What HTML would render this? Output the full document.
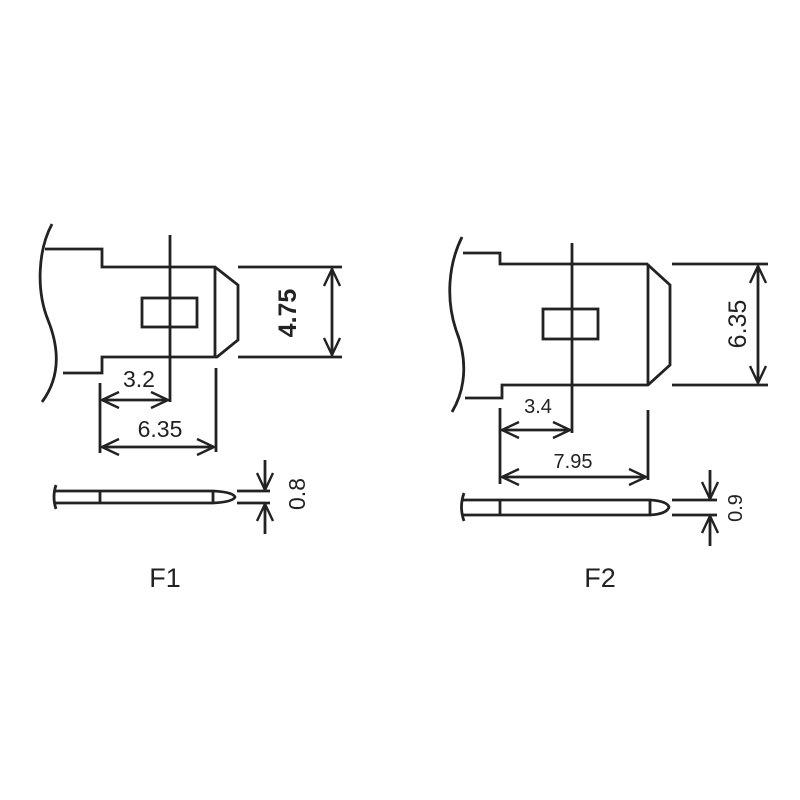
<!DOCTYPE html>
<html><head><meta charset="utf-8"><style>
html,body{margin:0;padding:0;background:#fff;}
svg{display:block;}
text{font-family:"Liberation Sans",Arial,sans-serif;fill:#222;}
</style></head><body>
<svg width="800" height="800" viewBox="0 0 800 800" xmlns="http://www.w3.org/2000/svg">
<defs>
<marker id="a" viewBox="0 0 20 20" refX="19" refY="10" markerWidth="20" markerHeight="20" markerUnits="userSpaceOnUse" orient="auto-start-reverse">
<path d="M2,2 L19,10 L2,18" fill="none" stroke="#222" stroke-width="2.4"/>
</marker>
</defs>
<g fill="none" stroke="#222" stroke-width="2.8" stroke-linejoin="miter">
<!-- F1 -->
<path d="M52,224 C38,250 36,290 48,320 C58,345 62,375 42,402"/>
<path d="M45,249 L102,249 L102,267 L215,267 L238,285 L238,340 L217,357 L102,357 L102,373 L63,373"/>
<line x1="215" y1="267" x2="215" y2="357"/>
<rect x="142" y="298" width="55" height="29"/>
<line x1="170" y1="235" x2="170" y2="402"/>
<line x1="100" y1="383" x2="100" y2="453"/>
<line x1="216" y1="368" x2="216" y2="452"/>
<line x1="102" y1="400" x2="168" y2="400" marker-start="url(#a)" marker-end="url(#a)"/>
<line x1="102" y1="447" x2="214" y2="447" marker-start="url(#a)" marker-end="url(#a)"/>
<line x1="238" y1="267" x2="342" y2="267"/>
<line x1="238" y1="357" x2="342" y2="357"/>
<line x1="332" y1="269" x2="332" y2="355" marker-start="url(#a)" marker-end="url(#a)"/>
<path d="M55,491 L213,491 Q233,492 235,497 Q233,502 213,503 L55,503"/>
<path d="M56,485 Q52,497 56,509"/>
<line x1="100" y1="491" x2="100" y2="503"/>
<line x1="213" y1="491" x2="213" y2="503"/>
<line x1="237" y1="491" x2="270" y2="491"/>
<line x1="237" y1="503" x2="270" y2="503"/>
<line x1="265" y1="460" x2="265" y2="490" marker-end="url(#a)"/>
<line x1="265" y1="534" x2="265" y2="504" marker-end="url(#a)"/>
<!-- F2 -->
<path d="M462,237 C448,265 446,300 456,330 C466,355 468,385 452,412"/>
<path d="M463,253 L500,253 L500,264 L647,264 L670,285 L670,365 L648,385 L502,385 L502,398 L465,398"/>
<line x1="648" y1="264" x2="648" y2="385"/>
<rect x="543" y="309" width="55" height="30"/>
<line x1="572" y1="243" x2="572" y2="433"/>
<line x1="500" y1="408" x2="500" y2="484"/>
<line x1="648" y1="410" x2="648" y2="480"/>
<line x1="502" y1="430" x2="570" y2="430" marker-start="url(#a)" marker-end="url(#a)"/>
<line x1="502" y1="477" x2="646" y2="477" marker-start="url(#a)" marker-end="url(#a)"/>
<line x1="672" y1="264" x2="768" y2="264"/>
<line x1="672" y1="385" x2="768" y2="385"/>
<line x1="758" y1="266" x2="758" y2="383" marker-start="url(#a)" marker-end="url(#a)"/>
<path d="M463,500 L650,500 Q667,501 669,507 Q667,514 650,515 L463,515"/>
<path d="M464,493 Q459,507 464,521"/>
<line x1="500" y1="500" x2="500" y2="515"/>
<line x1="650" y1="500" x2="650" y2="515"/>
<line x1="672" y1="500" x2="717" y2="500"/>
<line x1="672" y1="515" x2="717" y2="515"/>
<line x1="710" y1="470" x2="710" y2="499" marker-end="url(#a)"/>
<line x1="710" y1="546" x2="710" y2="516" marker-end="url(#a)"/>
</g>
<text x="139" y="387" font-size="23" text-anchor="middle">3.2</text>
<text x="160" y="437" font-size="23" text-anchor="middle">6.35</text>
<text transform="translate(296,313) rotate(-90)" font-size="25" font-weight="bold" text-anchor="middle">4.75</text>
<text transform="translate(305,494) rotate(-90)" font-size="23" text-anchor="middle">0.8</text>
<text x="165" y="587" font-size="27" text-anchor="middle">F1</text>
<text x="538" y="413" font-size="20" text-anchor="middle">3.4</text>
<text x="573" y="468" font-size="20" text-anchor="middle">7.95</text>
<text transform="translate(746,324) rotate(-90)" font-size="25" text-anchor="middle">6.35</text>
<text transform="translate(742,508) rotate(-90)" font-size="20" text-anchor="middle">0.9</text>
<text x="600" y="587" font-size="27" text-anchor="middle">F2</text>
</svg>
</body></html>
